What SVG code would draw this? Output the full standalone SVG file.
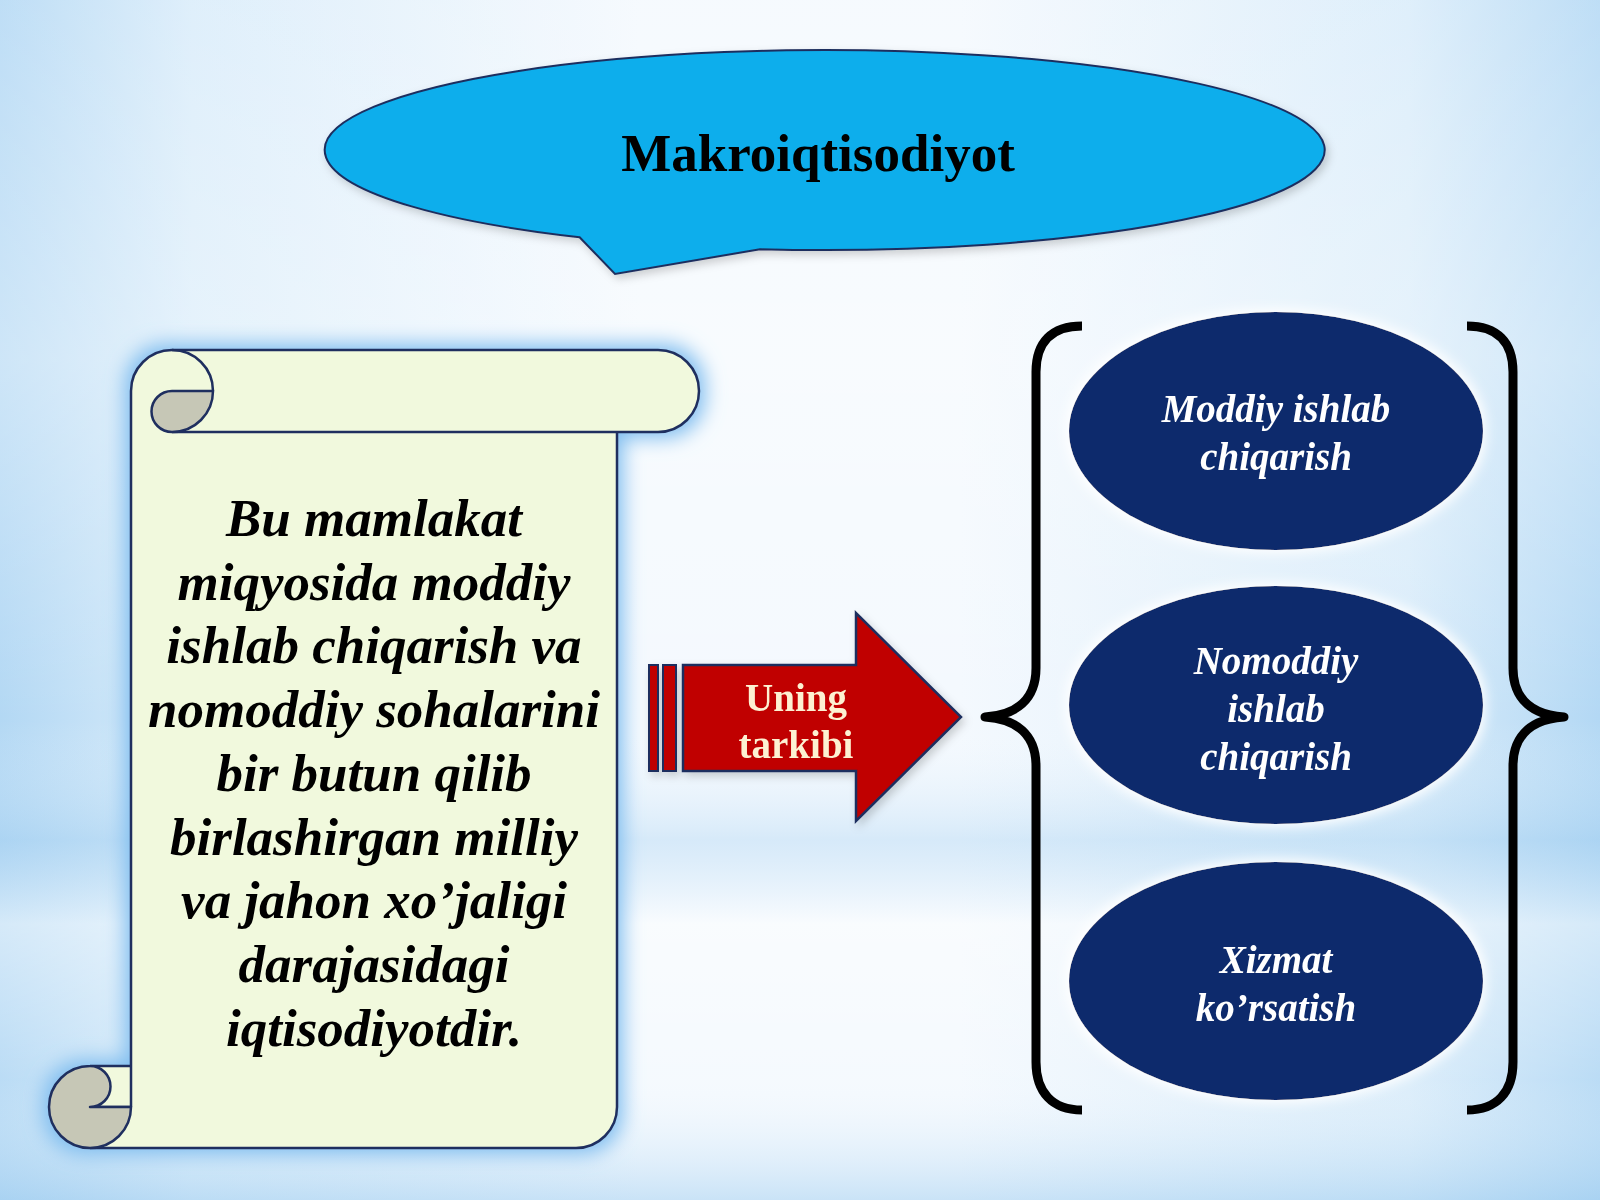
<svg xmlns="http://www.w3.org/2000/svg" width="1600" height="1200" viewBox="0 0 1600 1200">
  <defs>
    <linearGradient id="bgH" x1="0" y1="0" x2="1" y2="0">
      <stop offset="0" stop-color="#b3d8f4"/>
      <stop offset="0.12" stop-color="#d9ecfa"/>
      <stop offset="0.4" stop-color="#f4f9fe"/>
      <stop offset="0.6" stop-color="#f4f9fe"/>
      <stop offset="0.88" stop-color="#d9ecfa"/>
      <stop offset="1" stop-color="#b3d8f4"/>
    </linearGradient>
    <linearGradient id="bgV" x1="0" y1="0" x2="0" y2="1">
      <stop offset="0" stop-color="#ffffff" stop-opacity="0.15"/>
      <stop offset="0.3" stop-color="#ffffff" stop-opacity="0.35"/>
      <stop offset="0.6" stop-color="#ffffff" stop-opacity="0"/>
      <stop offset="0.7" stop-color="#9fcdf0" stop-opacity="0.35"/>
      <stop offset="0.77" stop-color="#ffffff" stop-opacity="0.45"/>
      <stop offset="0.9" stop-color="#ffffff" stop-opacity="0.1"/>
      <stop offset="1" stop-color="#9fcdf0" stop-opacity="0.5"/>
    </linearGradient>
    <filter id="halo" x="-20%" y="-20%" width="140%" height="140%">
      <feMorphology in="SourceAlpha" operator="dilate" radius="6" result="d"/>
      <feGaussianBlur in="d" stdDeviation="10" result="b"/>
      <feFlood flood-color="#7fbdef" flood-opacity="1"/>
      <feComposite in2="b" operator="in" result="g"/>
      <feMerge><feMergeNode in="g"/><feMergeNode in="SourceGraphic"/></feMerge>
    </filter>
    <filter id="whiteGlow" x="-20%" y="-20%" width="140%" height="140%">
      <feMorphology in="SourceAlpha" operator="dilate" radius="3" result="d"/>
      <feGaussianBlur in="d" stdDeviation="6" result="b"/>
      <feFlood flood-color="#ffffff" flood-opacity="0.95"/>
      <feComposite in2="b" operator="in" result="g"/>
      <feMerge><feMergeNode in="g"/><feMergeNode in="SourceGraphic"/></feMerge>
    </filter>
    <filter id="shadow" x="-10%" y="-20%" width="120%" height="140%">
      <feGaussianBlur in="SourceAlpha" stdDeviation="4" result="b"/>
      <feOffset in="b" dx="3" dy="4" result="o"/>
      <feFlood flood-color="#000000" flood-opacity="0.18"/>
      <feComposite in2="o" operator="in" result="s"/>
      <feMerge><feMergeNode in="s"/><feMergeNode in="SourceGraphic"/></feMerge>
    </filter>
  </defs>
  <style>
    .ln { stroke: #1f2f5f; stroke-width: 2.5; stroke-linejoin: round; }
    .scrollfill { fill: #f1f9dd; }
    .curl { fill: #c6c7b6; }
    .body { font-family: "Liberation Serif", "DejaVu Serif", serif; font-weight: bold; font-style: italic; font-size: 53px; fill: #000000; text-anchor: middle; }
    .oval { fill: #0f2c6c; }
    .ovaltext { font-family: "Liberation Serif", "DejaVu Serif", serif; font-weight: bold; font-style: italic; font-size: 39px; fill: #ffffff; text-anchor: middle; }
    .brace { fill: none; stroke: #000000; stroke-width: 9; stroke-linecap: butt; stroke-linejoin: round; }
  </style>

  <rect x="0" y="0" width="1600" height="1200" fill="url(#bgH)"/>
  <rect x="0" y="0" width="1600" height="1200" fill="url(#bgV)"/>

  <g id="title-bubble" filter="url(#shadow)">
    <path d="M 579.6,237.2 L 615,274 L 760,249.2 A 500 100 0 1 0 579.6,237.2 Z" fill="#0aaeec" stroke="#1f2f5f" stroke-width="2"/>
    <text x="818" y="171" font-family="Liberation Serif, DejaVu Serif, serif" font-weight="bold" font-size="53" fill="#000000" text-anchor="middle">Makroiqtisodiyot</text>
  </g>

  <g id="scroll">
    <g filter="url(#halo)">
      <path class="scrollfill" d="M 131,391 A 41 41 0 0 1 172,350 L 658,350 A 41 41 0 0 1 658,432 L 617,432 L 617,1107 A 41 41 0 0 1 576,1148 L 90,1148 A 41 41 0 0 1 90,1066 L 131,1066 Z"/>
    </g>
    <path class="ln" fill="none" d="M 131,1107 L 131,391 A 41 41 0 0 1 172,350 L 658,350 A 41 41 0 0 1 658,432 L 172,432"/>
    <path class="ln" fill="none" d="M 172,350 A 41 41 0 0 1 213,391"/>
    <path class="ln curl" d="M 172,391 L 213,391 A 41 41 0 0 1 172,432 A 20.5 20.5 0 0 1 172,391 Z"/>
    <path class="ln" fill="none" d="M 617,432 L 617,1107 A 41 41 0 0 1 576,1148 L 90,1148"/>
    <path class="ln" fill="none" d="M 90,1066 L 131,1066 M 90,1107 L 131,1107"/>
    <path class="ln curl" d="M 90,1066 A 41 41 0 0 0 90,1148 A 41 41 0 0 0 131,1107 L 90,1107 A 20.5 20.5 0 0 0 90,1066 Z"/>
    <text class="body" x="374" y="536">Bu mamlakat</text>
    <text class="body" x="374" y="600">miqyosida moddiy</text>
    <text class="body" x="374" y="663">ishlab chiqarish va</text>
    <text class="body" x="374" y="727">nomoddiy sohalarini</text>
    <text class="body" x="374" y="791">bir butun qilib</text>
    <text class="body" x="374" y="855">birlashirgan milliy</text>
    <text class="body" x="374" y="918">va jahon xo’jaligi</text>
    <text class="body" x="374" y="982">darajasidagi</text>
    <text class="body" x="374" y="1046">iqtisodiyotdir.</text>
  </g>

  <g id="arrow" filter="url(#shadow)">
    <rect x="649" y="665" width="9" height="106" fill="#c00000" stroke="#1f2f5f" stroke-width="2"/>
    <rect x="663" y="665" width="13" height="106" fill="#c00000" stroke="#1f2f5f" stroke-width="2"/>
    <path d="M 683,665 L 856,665 L 856,613 L 961,717 L 856,821 L 856,771 L 683,771 Z" fill="#c00000" stroke="#1f2f5f" stroke-width="2.5" stroke-linejoin="miter"/>
    <text x="796" y="711" font-family="Liberation Serif, DejaVu Serif, serif" font-weight="bold" font-size="39" fill="#fdf1d2" text-anchor="middle">Uning</text>
    <text x="796" y="758" font-family="Liberation Serif, DejaVu Serif, serif" font-weight="bold" font-size="39" fill="#fdf1d2" text-anchor="middle">tarkibi</text>
  </g>

  <g id="connectors">
    <path class="brace" d="M 1082,326 C 1052,326 1036,342 1036,372 L 1036,668 C 1036,700 1016,715 985,717 C 1016,719 1036,734 1036,766 L 1036,1062 C 1036,1092 1052,1110 1082,1110"/>
    <path class="brace" d="M 1467,326 C 1497,326 1513,342 1513,372 L 1513,668 C 1513,700 1533,715 1564,717 C 1533,719 1513,734 1513,766 L 1513,1062 C 1513,1092 1497,1110 1467,1110"/>
  </g>

  <g id="oval-moddiy" filter="url(#whiteGlow)">
    <ellipse class="oval" cx="1276" cy="431" rx="207" ry="119"/>
    <text class="ovaltext" x="1276" y="422">Moddiy ishlab</text>
    <text class="ovaltext" x="1276" y="470">chiqarish</text>
  </g>

  <g id="oval-nomoddiy" filter="url(#whiteGlow)">
    <ellipse class="oval" cx="1276" cy="705" rx="207" ry="119"/>
    <text class="ovaltext" x="1276" y="674">Nomoddiy</text>
    <text class="ovaltext" x="1276" y="722">ishlab</text>
    <text class="ovaltext" x="1276" y="770">chiqarish</text>
  </g>

  <g id="oval-xizmat" filter="url(#whiteGlow)">
    <ellipse class="oval" cx="1276" cy="981" rx="207" ry="119"/>
    <text class="ovaltext" x="1276" y="973">Xizmat</text>
    <text class="ovaltext" x="1276" y="1021">ko’rsatish</text>
  </g>
</svg>
